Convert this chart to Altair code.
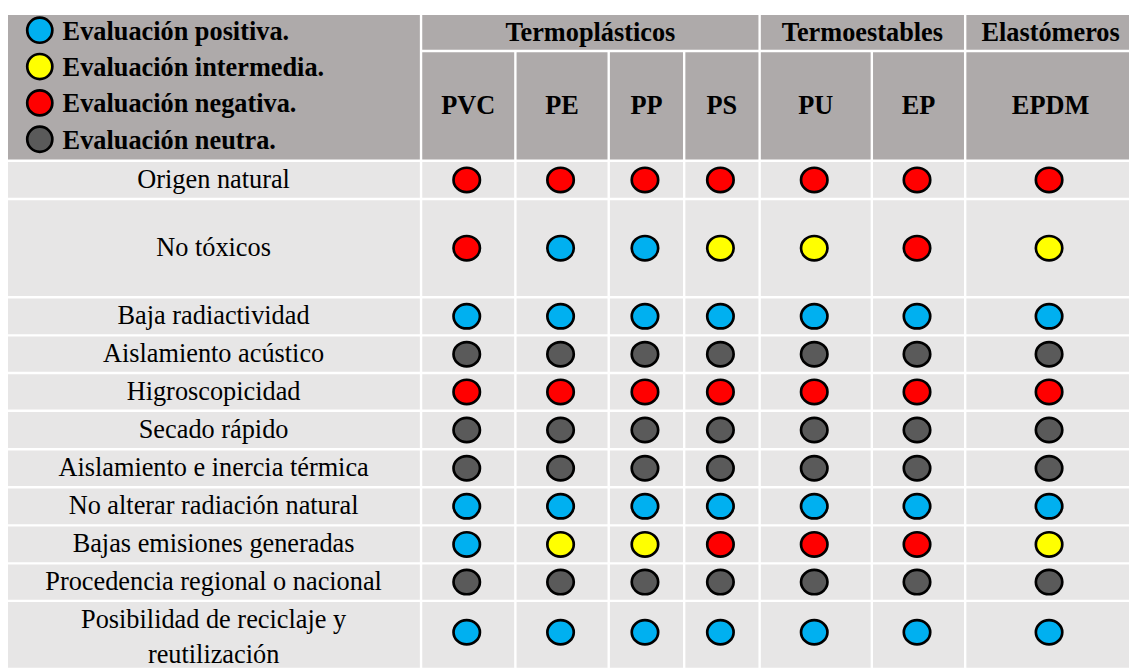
import altair as alt
import pandas as pd

# ---------------- data ----------------
criteria = [
    "Origen natural",
    "No tóxicos",
    "Baja radiactividad",
    "Aislamiento acústico",
    "Higroscopicidad",
    "Secado rápido",
    "Aislamiento e inercia térmica",
    "No alterar radiación natural",
    "Bajas emisiones generadas",
    "Procedencia regional o nacional",
    "Posibilidad de reciclaje y\nreutilización",
]
materials = ["PVC", "PE", "PP", "PS", "PU", "EP", "EPDM"]
families = ["Termoplásticos", "Termoestables", "Elastómeros"]
family_sizes = [4, 2, 1]

legend_keys = ["positiva", "intermedia", "negativa", "neutra"]
legend_labels = ["Evaluación positiva.", "Evaluación intermedia.",
                 "Evaluación negativa.", "Evaluación neutra."]

# one list per criterion, columns PVC, PE, PP, PS, PU, EP, EPDM
ratings = [
    ["negativa", "negativa", "negativa", "negativa", "negativa", "negativa", "negativa"],
    ["negativa", "positiva", "positiva", "intermedia", "intermedia", "negativa", "intermedia"],
    ["positiva", "positiva", "positiva", "positiva", "positiva", "positiva", "positiva"],
    ["neutra", "neutra", "neutra", "neutra", "neutra", "neutra", "neutra"],
    ["negativa", "negativa", "negativa", "negativa", "negativa", "negativa", "negativa"],
    ["neutra", "neutra", "neutra", "neutra", "neutra", "neutra", "neutra"],
    ["neutra", "neutra", "neutra", "neutra", "neutra", "neutra", "neutra"],
    ["positiva", "positiva", "positiva", "positiva", "positiva", "positiva", "positiva"],
    ["positiva", "intermedia", "intermedia", "negativa", "negativa", "negativa", "intermedia"],
    ["neutra", "neutra", "neutra", "neutra", "neutra", "neutra", "neutra"],
    ["positiva", "positiva", "positiva", "positiva", "positiva", "positiva", "positiva"],
]

# ---------------- styles / layout ----------------
rating_colors = {"positiva": "#00B0F0", "intermedia": "#FFFF00",
                 "negativa": "#FF0000", "neutra": "#5A5A5A"}
HEAD_BG = "#AEAAAA"
CELL_BG = "#E7E6E6"
FONT = "Times New Roman, Liberation Serif, DejaVu Serif, serif"
FS = 26.5

W, H = 1129, 662
col_edges = [-1.9, 416, 511, 605, 681, 757, 870, 964, 1136]
row_edges = [3.5, 41, 151.5, 190, 289, 327.3, 365.3, 403.3, 442,
             480.3, 518.7, 557, 594.7, 658]
GAP = 1.2
LINE_H = 35.5
MULTI_SHIFT = -12.5

# ---------------- build tables ----------------
rects = []
def add_rect(x0, x1, y0, y1, fill):
    rects.append({"x": x0 + GAP, "x2": x1 - GAP, "y": y0 + GAP, "y2": y1 - GAP, "fill": fill})

add_rect(col_edges[0], col_edges[1], row_edges[0], row_edges[2], HEAD_BG)
head_texts = []
start = 1
for fam, n in zip(families, family_sizes):
    add_rect(col_edges[start], col_edges[start + n], row_edges[0], row_edges[1], HEAD_BG)
    head_texts.append({"text": fam,
                       "x": (col_edges[start] + col_edges[start + n]) / 2,
                       "y": (row_edges[0] + GAP + row_edges[1]) / 2})
    start += n
for j, m in enumerate(materials):
    add_rect(col_edges[j + 1], col_edges[j + 2], row_edges[1], row_edges[2], HEAD_BG)
    head_texts.append({"text": m,
                       "x": (col_edges[j + 1] + col_edges[j + 2]) / 2,
                       "y": (row_edges[1] + row_edges[2]) / 2})

labels = []
dots = []
n_rows = len(criteria)
for i, crit in enumerate(criteria):
    y0 = row_edges[i + 2]
    y1 = row_edges[i + 3]
    y1_draw = y1 if i < n_rows - 1 else H + 20
    yc = (y0 + y1) / 2
    for c in range(len(materials) + 1):
        add_rect(col_edges[c], col_edges[c + 1], y0, y1_draw, CELL_BG)
    multi = "\n" in crit
    labels.append({"text": crit,
                   "x": (col_edges[0] + col_edges[1]) / 2,
                   "y": yc + (MULTI_SHIFT if multi else 0)})
    for j, rv in enumerate(ratings[i]):
        dots.append({"x": (col_edges[j + 1] + col_edges[j + 2]) / 2,
                     "y": yc, "fill": rating_colors[rv], "rating": rv,
                     "material": materials[j], "criterio": crit})

leg = []
for k, (key, lab) in enumerate(zip(legend_keys, legend_labels)):
    leg.append({"text": lab, "fill": rating_colors[key],
                "y": 21.5 + 36.6 * k, "xc": 32, "xt": 55})

rect_df = pd.DataFrame(rects)
head_df = pd.DataFrame(head_texts)
lab_df = pd.DataFrame(labels)
dot_df = pd.DataFrame(dots)
leg_df = pd.DataFrame(leg)

xs = alt.Scale(domain=[0, W], nice=False, zero=False)
ys = alt.Scale(domain=[0, H], nice=False, zero=False, reverse=True)

def X(f):
    return alt.X(f"{f}:Q", scale=xs, axis=None)

def Y(f):
    return alt.Y(f"{f}:Q", scale=ys, axis=None)

bg = alt.Chart(rect_df).mark_rect(clip=True).encode(
    x=X("x"), x2="x2", y=Y("y"), y2="y2",
    color=alt.Color("fill:N", scale=None))

head = alt.Chart(head_df).mark_text(
    font=FONT, fontSize=FS, fontWeight="bold", color="#000000",
    align="center", baseline="middle").encode(
    x=X("x"), y=Y("y"), text="text:N")

lab = alt.Chart(lab_df).mark_text(
    font=FONT, fontSize=FS, color="#000000", align="center",
    baseline="middle", lineBreak="\n", lineHeight=LINE_H).encode(
    x=X("x"), y=Y("y"), text="text:N")

ellipse = "M-1,0A1,0.92,0,1,1,1,0A1,0.92,0,1,1,-1,0Z"
dot = alt.Chart(dot_df).mark_point(
    shape=ellipse, size=708, filled=True, stroke="#000000",
    strokeWidth=2.7, opacity=1, xOffset=-1.5).encode(
    x=X("x"), y=Y("y"),
    fill=alt.Fill("fill:N", scale=None),
    tooltip=["criterio:N", "material:N", "rating:N"])

leg_dot = alt.Chart(leg_df).mark_point(
    shape="circle", size=640, filled=True, stroke="#000000",
    strokeWidth=2.7, opacity=1, yOffset=-1.5).encode(
    x=X("xc"), y=Y("y"), fill=alt.Fill("fill:N", scale=None))

leg_txt = alt.Chart(leg_df).mark_text(
    font=FONT, fontSize=FS, fontWeight="bold", color="#000000",
    align="left", baseline="middle").encode(
    x=X("xt"), y=Y("y"), text="text:N")

chart = alt.layer(bg, head, lab, dot, leg_dot, leg_txt).properties(
    width=W, height=H, padding=0, autosize="none", background="#FFFFFF"
).configure_view(stroke=None)

chart.save("out.html", embed_options={"renderer": "svg", "actions": False})
